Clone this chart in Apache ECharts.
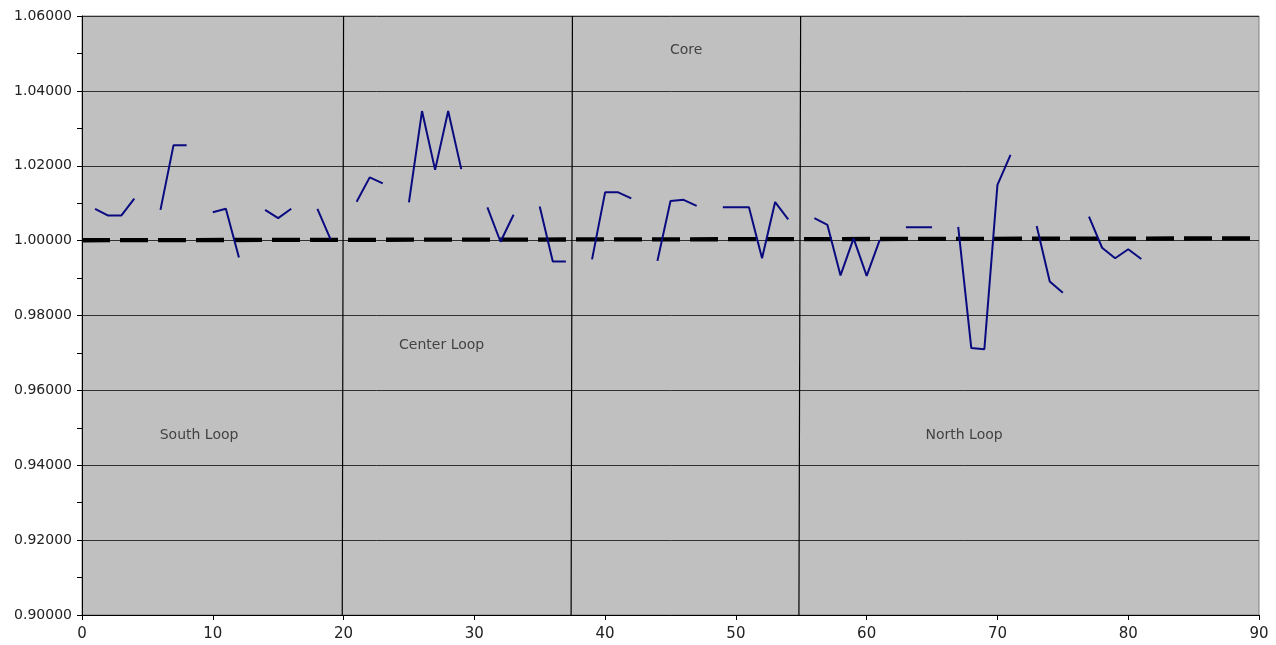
<!DOCTYPE html>
<html>
<head>
<meta charset="utf-8">
<style>
  html, body { margin: 0; padding: 0; background: #ffffff; }
  #chart { width: 1276px; height: 645px; }
</style>
<script src="https://cdn.jsdelivr.net/npm/echarts@6/dist/echarts.min.js"></script>
</head>
<body>
<div id="chart"></div>
<script>
// Ratio per station, stations 1..81 (null = no reading, line breaks there)
const stationRatio = [
  1.0085, 1.0067, 1.0067, 1.0112, null,
  1.0082, 1.0255, 1.0255, null,
  1.0076, 1.0085, 0.9955, null,
  1.0082, 1.0060, 1.0085, null,
  1.0085, 1.0004, null,
  1.0104, 1.0169, 1.0153, null,
  1.0102, 1.0346, 1.0189, 1.0346, 1.0191, null,
  1.0089, 0.9997, 1.0069, null,
  1.0091, 0.9944, 0.9944, null,
  0.9950, 1.0129, 1.0129, 1.0113, null,
  0.9946, 1.0106, 1.0109, 1.0093, null,
  1.0089, 1.0089, 1.0089, 0.9953, 1.0103, 1.0057, null,
  1.0060, 1.0042, 0.9907, 1.0006, 0.9906, 1.0002, null,
  1.0036, 1.0036, 1.0036, null,
  1.0037, 0.9713, 0.9710, 1.0149, 1.0229, null,
  1.0039, 0.9891, 0.9861, null,
  1.0064, 0.9981, 0.9953, 0.9977, 0.9951
];

// Average ratio trend across the full station range
const trendX = [0, 90];
const trendY = [1.0001, 1.0006];

// Section boundaries (top and bottom station value of each divider)
const dividerTopX = [20.0, 37.5, 54.95];
const dividerBottomX = [19.9, 37.4, 54.82];
const dividerYRange = [1.06, 0.90];

// Section names and where they sit in data space
const sectionNames = ['Core', 'Center Loop', 'South Loop', 'North Loop'];
const sectionX = [46.2, 27.5, 8.95, 67.45];
const sectionY = [1.0509, 0.9721, 0.9480, 0.9480];

// Axis ranges
const xRange = { min: 0, max: 90, step: 10 };
const yRange = { min: 0.90, max: 1.06, step: 0.02 };

const ratioData = stationRatio.map((v, i) => [i + 1, v === null ? '-' : v]);
const trendData = trendX.map((x, i) => [x, trendY[i]]);
const dividerData = [];
dividerTopX.forEach((x, i) => {
  dividerData.push([x, dividerYRange[0]]);
  dividerData.push([dividerBottomX[i], dividerYRange[1]]);
  dividerData.push([x, '-']);
});
const sectionData = sectionNames.map((n, i) => ({ name: n, value: [sectionX[i], sectionY[i]] }));

const labelFont = 'DejaVu Sans';
const chart = echarts.init(document.getElementById('chart'), null, { renderer: 'canvas' });
chart.setOption({
  animation: false,
  backgroundColor: '#ffffff',
  grid: {
    left: 82, right: 17, top: 16, bottom: 30,
    show: true,
    backgroundColor: '#c0c0c0',
    borderColor: '#808080',
    borderWidth: 1
  },
  xAxis: {
    type: 'value',
    min: xRange.min, max: xRange.max, interval: xRange.step,
    axisLine: { show: true, onZero: false, lineStyle: { color: '#000', width: 1 } },
    axisTick: { show: true, length: 5, lineStyle: { color: '#000' } },
    axisLabel: { fontFamily: labelFont, fontSize: 15, color: '#222', margin: 12 },
    splitLine: { show: false }
  },
  yAxis: {
    type: 'value',
    min: yRange.min, max: yRange.max, interval: yRange.step,
    axisLine: { show: true, onZero: false, lineStyle: { color: '#000', width: 1 } },
    axisTick: { show: true, length: 5, lineStyle: { color: '#000' } },
    minorTick: { show: true, splitNumber: 2, length: 5, lineStyle: { color: '#000' } },
    axisLabel: {
      fontFamily: labelFont, fontSize: 14, color: '#222', margin: 10,
      formatter: v => v.toFixed(5)
    },
    splitLine: { show: true, lineStyle: { color: '#303030', width: 1 } }
  },
  series: [
    {
      type: 'line',
      data: dividerData,
      showSymbol: false,
      symbol: 'none',
      connectNulls: false,
      lineStyle: { color: '#000', width: 1.2 },
      z: 2
    },
    {
      type: 'line',
      data: trendData,
      showSymbol: false,
      symbol: 'none',
      lineStyle: { color: '#000', width: 4.3, type: [28, 10] },
      z: 3
    },
    {
      type: 'line',
      data: ratioData,
      showSymbol: false,
      symbol: 'none',
      connectNulls: false,
      lineStyle: { color: '#0a0a80', width: 2 },
      z: 4
    },
    {
      type: 'scatter',
      data: sectionData,
      symbolSize: 1,
      itemStyle: { color: 'rgba(0,0,0,0)' },
      label: {
        show: true,
        position: 'inside',
        formatter: p => p.name,
        fontFamily: labelFont,
        fontSize: 14,
        color: '#222'
      },
      z: 5
    }
  ]
});
</script>
</body>
</html>
